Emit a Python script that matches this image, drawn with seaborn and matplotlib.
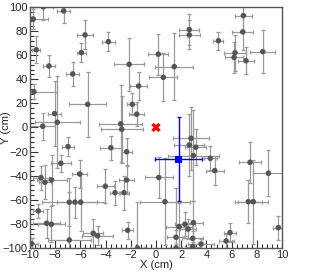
import matplotlib
matplotlib.use('Agg')
import matplotlib.pyplot as plt
import seaborn as sns
from matplotlib.ticker import MultipleLocator

# === DATA ===
x_vals = [-8.94, -9.74, -7.33, -5.63, -5.92, -9.50, -3.78, -8.49, -6.61, -2.13,
          -1.38, -9.68, -1.88, -1.53, -5.42, -8.05, -7.83, -8.99, -2.80, -2.72,
          0.18, 6.93, 6.88, 2.64, 2.64, 4.95, 6.27, 6.19, 7.14, 8.47,
          1.45, 0.58, -6.98, -7.55, -9.13, -8.81, -8.28, -6.06, -3.58, -2.33,
          -2.33, -4.02, -3.25, -2.54, -6.88, -6.43, -5.98, -9.34, -8.68, -8.30,
          -6.88, -4.98, -4.63, -2.25, -9.87, -1.47, 0.22, 2.78, 2.64, 3.15,
          2.96, 4.31, 4.66, 0.71, 7.46, 8.92, 7.33, 7.72, 9.71, 5.87,
          5.56, 1.83, 2.30, 2.54, 2.96, 1.59, 2.91, 2.91, 3.57, 1.59]
y_vals = [100.0, 90.0, 96.7, 76.8, 62.1, 64.5, 71.2, 51.0, 44.4, 52.4,
          34.4, 29.7, 19.2, 11.0, 19.2, 11.5, 4.3, 1.0, 3.0, -1.5,
          60.8, 92.8, 79.3, 81.2, 76.8, 72.0, 62.0, 58.2, 55.4, 62.9,
          50.5, 41.6, -15.9, -29.7, -41.6, -45.5, -43.5, -38.6, -16.8, -20.1,
          -43.6, -48.8, -54.1, -54.1, -62.0, -62.0, -62.0, -69.3, -79.5, -80.3,
          -93.4, -87.8, -89.9, -85.3, -96.5, -100.0, -41.5, -9.0, -14.5, -16.4,
          -23.3, -25.6, -35.8, -61.6, -28.9, -38.0, -61.6, -61.6, -83.1, -87.3,
          -94.2, -82.3, -80.3, -84.3, -79.0, -91.1, -92.0, -98.8, -96.7, -100.0]
x_errs = [0.8, 1.2, 0.5, 0.6, 0.35, 0.3, 0.5, 0.45, 0.5, 1.2,
          0.7, 1.8, 0.4, 0.6, 1.45, 0.5, 1.8, 1.0, 1.7, 1.65,
          0.8, 0.7, 0.85, 0.8, 0.85, 0.4, 0.85, 0.7, 0.6, 1.0,
          1.5, 1.1, 0.5, 0.8, 0.65, 0.5, 1.2, 0.6, 0.9, 0.4,
          0.6, 0.7, 0.4, 0.4, 2.2, 0.5, 1.9, 0.4, 1.1, 1.1,
          1.7, 0.8, 1.25, 0.45, 0.5, 0.5, 1.1, 1.4, 1.2, 0.85,
          2.0, 0.5, 0.7, 2.0, 0.9, 1.2, 1.1, 1.2, 0.4, 0.5,
          0.6, 1.05, 0.8, 0.6, 0.8, 0.7, 0.85, 0.6, 1.0, 0.5]
y_errs = [11, 8, 10, 12, 8, 11, 8, 9, 10, 22,
          12, 6, 9, 10, 27, 27, 38, 11, 32, 28,
          17, 13, 15, 13, 12, 7.5, 15, 13, 11, 18,
          28, 20, 8, 7, 10, 14, 21, 12, 10, 11,
          12, 14, 10, 14, 20, 13, 24, 5.5, 12, 15,
          40, 12, 8, 7, 5, 38, 17, 26, 26, 15,
          38, 10, 12, 36, 17, 19, 18, 35, 10, 8,
          6, 20, 10, 8, 18, 6, 6, 4, 4, 50]

# fitted position and true source
fit_x, fit_y, fit_xerr, fit_yerr = [1.8], [-26.4], [1.88], [35.0]
true_x, true_y = [0.0], [0.0]

# === PLOT ===
sns.set_style('ticks')
plt.rcParams['font.family'] = ['Liberation Sans', 'DejaVu Sans']

fig = plt.figure(figsize=(3.12, 2.78), dpi=100)
ax = fig.add_axes([0.096, 0.108, 0.808, 0.867])

ax.errorbar(x_vals, y_vals, xerr=x_errs, yerr=y_errs, fmt='none',
            ecolor='#9a9a9a', elinewidth=0.9, capsize=1.3, capthick=0.9, zorder=2)
sns.scatterplot(x=x_vals, y=y_vals, ax=ax, color='#555555', s=16,
                edgecolor='none', zorder=3)

ax.errorbar(fit_x, fit_y, xerr=fit_xerr, yerr=fit_yerr, fmt='none',
            ecolor='#0000ff', elinewidth=1.0, capsize=1.3, capthick=1.0, zorder=4)
sns.scatterplot(x=fit_x, y=fit_y, ax=ax, color='#0000ff', marker='s', s=26,
                edgecolor='none', zorder=5)
sns.scatterplot(x=true_x, y=true_y, ax=ax, color='#ff0000', marker='X', s=45,
                edgecolor='none', zorder=5)

ax.set_xlim(-10, 10)
ax.set_ylim(-100, 100)
ax.xaxis.set_major_locator(MultipleLocator(2))
ax.xaxis.set_minor_locator(MultipleLocator(0.4))
ax.yaxis.set_major_locator(MultipleLocator(20))
ax.yaxis.set_minor_locator(MultipleLocator(4))
ax.tick_params(which='both', direction='in', top=False, right=False,
               labelsize=8, pad=1.5, color='#333333')
ax.tick_params(which='major', length=6, width=0.8)
ax.tick_params(which='minor', length=3, width=0.8)
for sp in ax.spines.values():
    sp.set_color('#555555')
    sp.set_linewidth(1.0)

ax.set_xlabel('X (cm)', fontsize=8, labelpad=0)
ax.set_ylabel('Y (cm)', fontsize=8)
ax.yaxis.set_label_coords(-0.075, 0.5)

fig.savefig('out.png', dpi=100)
